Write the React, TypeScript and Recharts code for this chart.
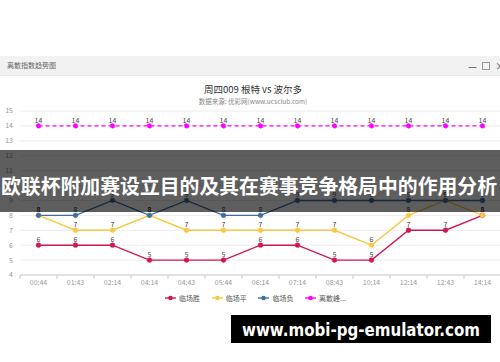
import { LineChart, Line, XAxis, YAxis, CartesianGrid, LabelList } from "recharts";

const TIMES = ["00:44", "01:43", "02:14", "04:14", "04:43", "05:44", "06:14", "07:14", "08:43", "10:14", "12:14", "12:43", "14:14"];
const WIN = [6, 6, 6, 5, 5, 5, 6, 6, 5, 5, 7, 7, 8];
const DRAW = [8, 7, 7, 8, 7, 7, 7, 7, 7, 6, 8, 9, 8];
const LOSS = [8, 8, 9, 8, 9, 8, 8, 9, 9, 9, 9, 9, 9];
const SPREAD = [14, 14, 14, 14, 14, 14, 14, 14, 14, 14, 14, 14, 14];
const Y_TICKS = [4, 5, 6, 7, 8, 9, 10, 11, 12, 13, 14, 15];

const SERIES = [
  { key: "win", name: "临场胜", color: "#d2174f", dashed: false },
  { key: "draw", name: "临场平", color: "#f8c845", dashed: false },
  { key: "loss", name: "临场负", color: "#3f6d9d", dashed: false },
  { key: "spread", name: "离散峰...", color: "#ff00ff", dashed: true },
];

const data = TIMES.map((t, i) => ({
  time: t,
  win: WIN[i],
  draw: DRAW[i],
  loss: LOSS[i],
  spread: SPREAD[i],
}));

const FONT = "'Noto Sans CJK SC', 'Noto Sans', sans-serif";
const BAND = 37;

// category tick: label centred, tick mark on the band boundary (echarts style)
function TimeTick(props: { x?: number; y?: number; payload?: { value: string } }) {
  const { x = 0, y = 0, payload } = props;
  const left = x - BAND / 2;
  return (
    <g>
      <line x1={left} y1={y} x2={left} y2={y + 4} stroke="#cccccc" />
      <text x={x} y={y + 10} textAnchor="middle" fill="#999" fontSize={7} fontFamily={FONT}>
        {payload?.value}
      </text>
    </g>
  );
}

export default function App() {
  return (
    <div
      style={{
        position: "absolute",
        left: 0,
        top: 0,
        width: 500,
        height: 362,
        overflow: "hidden",
        background: "#fff",
        fontFamily: FONT,
      }}
    >
      {/* window header */}
      <div
        style={{
          position: "absolute",
          left: 0,
          top: 56,
          width: 500,
          height: 19,
          background: "#f2f2f2",
          borderBottom: "1px solid #e8e8e8",
        }}
      >
        <span style={{ position: "absolute", left: 7, top: 4, fontSize: 7, color: "#666" }}>离散指数趋势图</span>
        <span style={{ position: "absolute", left: 468, top: 2, fontSize: 10, color: "#555" }}>—</span>
        <span
          style={{
            position: "absolute",
            left: 482,
            top: 6,
            width: 6,
            height: 6,
            border: "1px solid #999",
          }}
        />
        <span style={{ position: "absolute", left: 495, top: 2, fontSize: 10, color: "#555" }}>×</span>
      </div>

      {/* titles */}
      <div
        style={{
          position: "absolute",
          left: 153,
          top: 83,
          width: 200,
          textAlign: "center",
          fontSize: 9.5,
          color: "#333",
          lineHeight: "12px",
        }}
      >
        周四009 根特 vs 波尔多
      </div>
      <div
        style={{
          position: "absolute",
          left: 153,
          top: 97,
          width: 200,
          textAlign: "center",
          fontSize: 6.5,
          color: "#888",
          lineHeight: "9px",
        }}
      >
        数据来源: 优彩网(www.ucsclub.com)
      </div>

      <div style={{ position: "absolute", left: 0, top: 0 }}>
        <LineChart width={510} height={362} data={data} margin={{ top: 111, right: 9, left: 0, bottom: 67 }}>
          <CartesianGrid horizontal vertical={false} stroke="#ececec" />
          <XAxis
            dataKey="time"
            height={20}
            padding={{ left: BAND / 2, right: BAND / 2 }}
            axisLine={{ stroke: "#cccccc" }}
            tickLine={false}
            tickSize={0}
            tickMargin={0}
            interval={0}
            tick={<TimeTick />}
          />
          <YAxis
            width={20}
            domain={[4, 15]}
            ticks={Y_TICKS}
            interval={0}
            axisLine={false}
            tickLine={false}
            tickSize={0}
            tickMargin={7}
            tick={{ fill: "#999", fontSize: 7, fontFamily: FONT }}
          />
          {SERIES.map((s) => (
            <Line
              key={s.key}
              type="linear"
              dataKey={s.key}
              name={s.name}
              stroke={s.color}
              strokeWidth={1.4}
              strokeDasharray={s.dashed ? "4 3" : undefined}
              dot={{ r: 2.4, fill: s.color, stroke: s.color, strokeWidth: 0.5 }}
              isAnimationActive={false}
            >
              <LabelList dataKey={s.key} position="top" offset={3} fontSize={7} fill="#444" fontFamily={FONT} />
            </Line>
          ))}
        </LineChart>
      </div>

      {/* legend */}
      <div style={{ position: "absolute", left: 0, top: 292, width: 500, height: 12 }}>
        {SERIES.map((s, i) => (
          <div
            key={s.key}
            style={{
              position: "absolute",
              left: 165 + i * 46.7,
              top: 0,
              height: 12,
              display: "flex",
              alignItems: "center",
              fontSize: 7,
              color: "#555",
            }}
          >
            <svg width={11} height={6} style={{ marginRight: 3 }}>
              <line x1={0} y1={3} x2={11} y2={3} stroke={s.color} strokeWidth={1.4} />
              <circle cx={5.5} cy={3} r={2.3} fill={s.color} />
            </svg>
            {s.name}
          </div>
        ))}
      </div>

      {/* article banner */}
      <div
        style={{
          position: "absolute",
          left: 0,
          top: 150,
          width: 500,
          height: 62,
          background: "rgba(0,0,0,0.63)",
        }}
      >
        <svg width={500} height={62}>
          <text
            x={249}
            y={35}
            textAnchor="middle"
            dominantBaseline="central"
            fill="#fff"
            fontSize={20}
            fontWeight={700}
            fontFamily="'Noto Sans CJK SC', sans-serif"
            textLength={496}
            lengthAdjust="spacingAndGlyphs"
          >
            欧联杯附加赛设立目的及其在赛事竞争格局中的作用分析
          </text>
        </svg>
      </div>

      {/* watermark */}
      <div style={{ position: "absolute", left: 231, top: 315, width: 260, height: 28, background: "#000" }}>
        <svg width={260} height={28}>
          <text
            x={130}
            y={15}
            textAnchor="middle"
            dominantBaseline="central"
            fill="#fff"
            fontSize={17}
            fontWeight={700}
            fontFamily="'DejaVu Sans', 'Open Sans', sans-serif"
            textLength={238}
            lengthAdjust="spacingAndGlyphs"
          >
            www.mobi-pg-emulator.com
          </text>
        </svg>
      </div>
    </div>
  );
}
